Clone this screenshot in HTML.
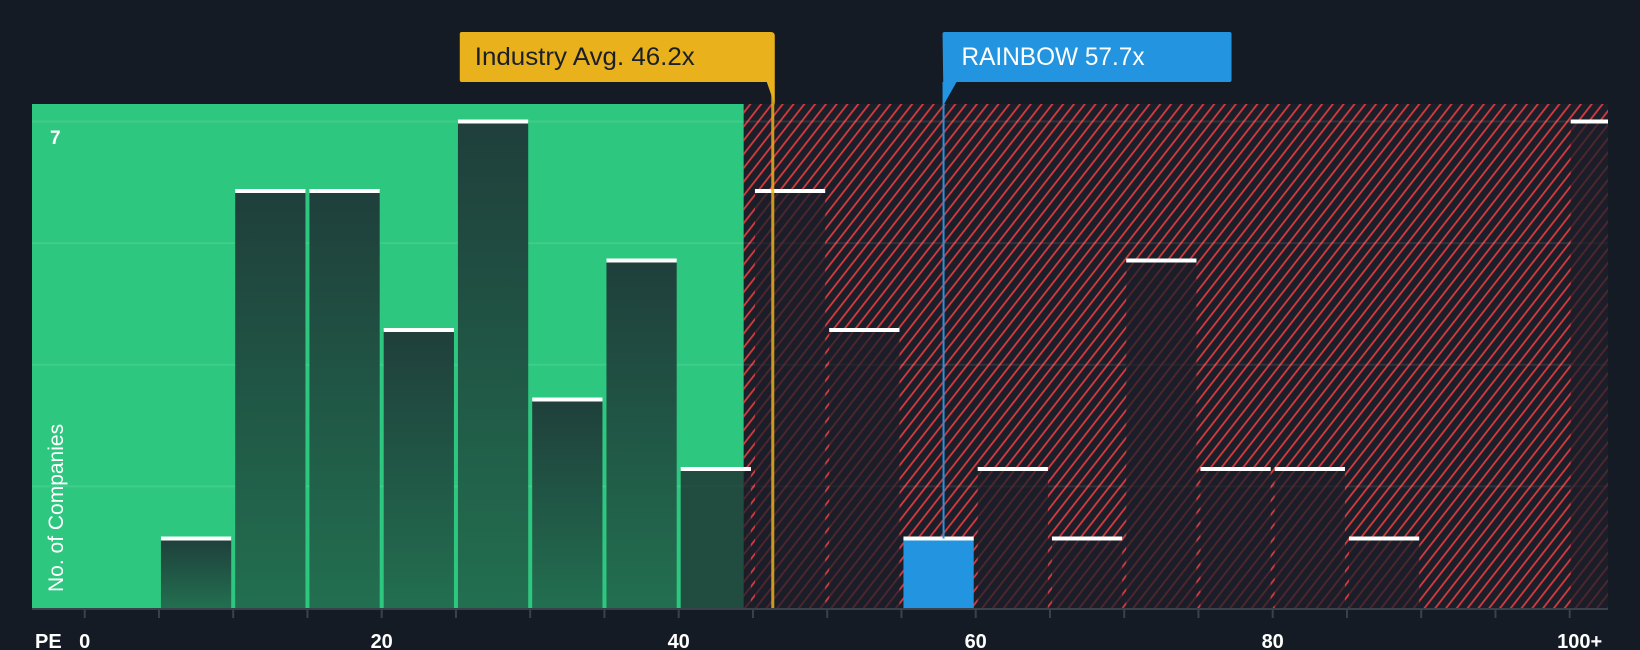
<!DOCTYPE html>
<html><head><meta charset="utf-8"><style>
html,body{margin:0;padding:0;background:#151b24;}
svg{display:block;font-family:"Liberation Sans",sans-serif;}
</style></head><body>
<svg id="chart" width="1640" height="650" viewBox="0 0 1640 650" xmlns="http://www.w3.org/2000/svg">
<defs>
<pattern id="hatch" patternUnits="userSpaceOnUse" width="8.5" height="8.5" patternTransform="rotate(38)">
<rect width="8.5" height="8.5" fill="#1b1f29"/>
<rect width="1.8" height="8.5" fill="#d83a3e"/>
</pattern>
<linearGradient id="barg" x1="0" y1="0" x2="0" y2="1">
<stop offset="0" stop-color="#1f3f3b"/><stop offset="1" stop-color="#226f50"/>
</linearGradient>
</defs>
<g id="bg"></g>
<g id="grid"></g>
<g id="bars"></g>
<g id="axis"></g>
<g id="annot"></g>
</svg>
<script>
const binStarts = [0,5,10,15,20,25,30,35,40,45,50,55,60,65,70,75,80,85,90,95,100];
const counts = [0,1,6,6,4,7,3,5,2,6,4,1,2,1,5,2,2,1,0,0,7];
const tickValues = [0,20,40,60,80,100];
const tickLabels = ["0","20","40","60","80","100+"];
const industryAvg = 46.2;
const companyPE = 57.7;
const companyName = "RAINBOW";
const yMax = 7;

const NS="http://www.w3.org/2000/svg";
const X0=84.7, PX=14.85, BASE=608, UNIT=69.5, LEFT=32, RIGHT=1608, TOP=104;
const x=v=>X0+v*PX;
const y=c=>BASE-c*UNIT;
function mk(tag,attrs,parent){const e=document.createElementNS(NS,tag);for(const k in attrs)e.setAttribute(k,attrs[k]);parent.appendChild(e);return e;}
const bg=document.getElementById('bg'),grid=document.getElementById('grid'),bars=document.getElementById('bars'),axis=document.getElementById('axis'),annot=document.getElementById('annot');

const greenEnd=x(industryAvg)-27;
let r=mk('rect',{x:LEFT,y:TOP,width:greenEnd-LEFT,height:BASE-TOP,fill:'#2ec77f'},bg);


r=mk('rect',{x:greenEnd,y:TOP,width:RIGHT-greenEnd,height:BASE-TOP,fill:'url(#hatch)'},bg);



[1,2,3,4].forEach(i=>{const gy=y(yMax*i/4);
const l=mk('line',{x1:LEFT,x2:RIGHT,y1:gy,y2:gy,stroke:'rgba(255,255,255,0.09)','stroke-width':2},grid);

});

binStarts.forEach((s,i)=>{
 const c=counts[i]; if(!c) return;
 const w= s>=100 ? (RIGHT-x(s)-1) : PX*5-4;
 const bx= s>=100 ? x(s)+1 : x(s)+2;
 const isCo = companyPE>=s && companyPE<s+5;
 const inGreen = bx+w<=greenEnd+1;
 const fill = isCo ? '#2394e0' : (inGreen ? 'url(#barg)' : 'rgba(28,30,40,0.72)');
 const b=mk('rect',{x:bx,y:y(c),width:w,height:BASE-y(c),fill:fill},bars);
 
 
 const t=mk('rect',{x:bx,y:y(c)-2,width:w,height:4,fill:'#ffffff'},bars);
 
 
});

let al=mk('line',{x1:LEFT,x2:RIGHT,y1:BASE+1,y2:BASE+1,stroke:'#3a414c','stroke-width':2},axis);


binStarts.forEach(s=>{const tk=mk('line',{x1:x(s),x2:x(s),y1:BASE+1,y2:BASE+10,stroke:'#3a414c','stroke-width':2},axis);

});
tickValues.forEach((v,i)=>{const t=mk('text',{x:x(v)+(v>=100?10:0),y:648,fill:'#ffffff','font-size':20,'font-weight':'bold','text-anchor':'middle'},axis);
t.textContent=tickLabels[i];

});
let pe=mk('text',{x:35,y:648,fill:'#ffffff','font-size':20,'font-weight':'bold'},axis);pe.textContent='PE';


let yl=mk('text',{x:0,y:0,fill:'#ffffff','font-size':21,transform:'translate(63,592) rotate(-90)'},axis);yl.textContent='No. of Companies';


let y7=mk('text',{x:50,y:144,fill:'#ffffff','font-size':19,'font-weight':'bold'},axis);y7.textContent=String(yMax);



const ix=x(industryAvg)+2;
let il=mk('line',{x1:ix,x2:ix,y1:82,y2:BASE,stroke:'#e9b11b','stroke-width':3,opacity:0.85},annot);


let ib=mk('path',{d:`M${ix-313},34 Q${ix-313},32 ${ix-311},32 L${ix-2},32 Q${ix+2},32 ${ix+2},36 L${ix+2},105 L${ix-6},82 L${ix-311},82 Q${ix-313},82 ${ix-313},80 Z`,fill:'#e9b11b'},annot);


let it=mk('text',{x:ix-298,y:65,fill:'#1b1f29','font-size':25,textLength:220,lengthAdjust:'spacingAndGlyphs'},annot);it.textContent='Industry Avg. '+industryAvg+'x';



const cx=x(companyPE)+2;
let cl=mk('line',{x1:cx,x2:cx,y1:82,y2:y(1),stroke:'#2394e0','stroke-width':2},annot);


let cb=mk('path',{d:`M${cx-1},34 Q${cx-1},32 ${cx+1},32 L${cx+286},32 Q${cx+288},32 ${cx+288},34 L${cx+288},80 Q${cx+288},82 ${cx+286},82 L${cx+13},82 L${cx},105 Z`,fill:'#2394e0'},annot);


let ct=mk('text',{x:cx+18,y:65,fill:'#ffffff','font-size':25,textLength:183,lengthAdjust:'spacingAndGlyphs'},annot);ct.textContent=companyName+' '+companyPE+'x';


</script>
</body></html>
